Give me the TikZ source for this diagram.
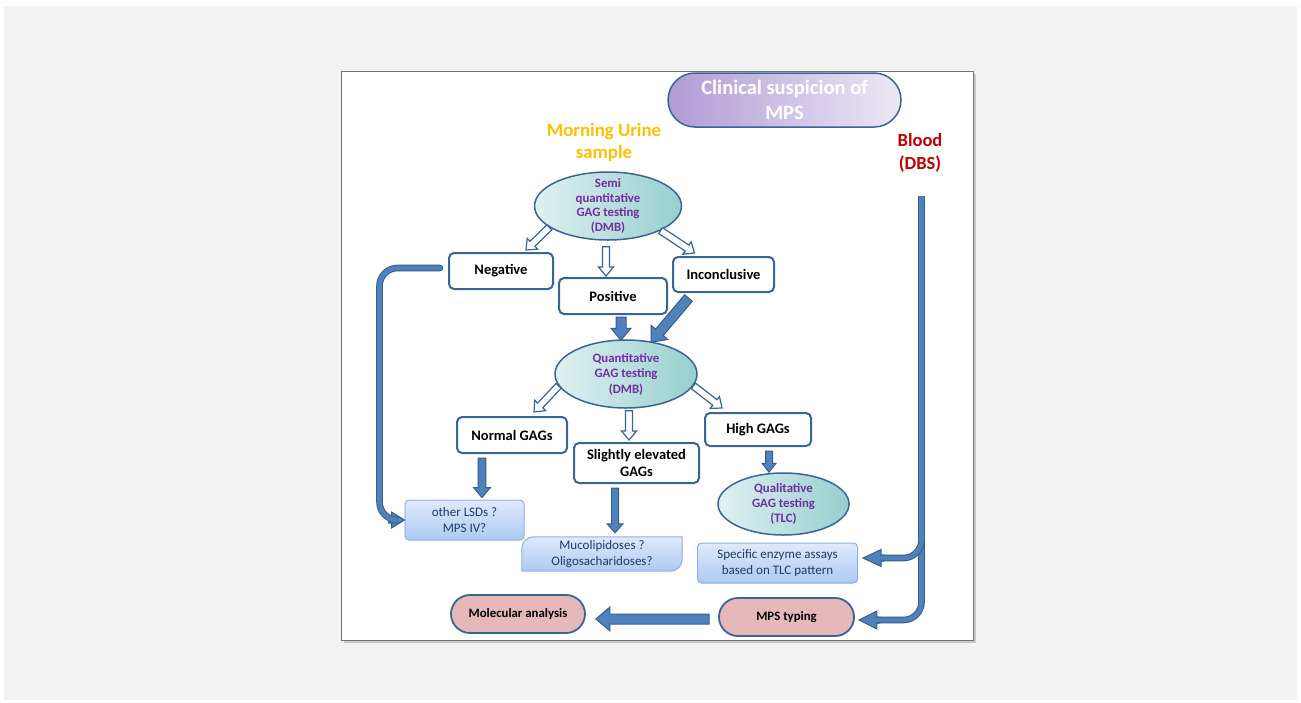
\documentclass[tikz,border=0pt]{standalone}
\usepackage{fontspec}
\setmainfont{Carlito}
\usetikzlibrary{shapes.geometric,calc,backgrounds}

\definecolor{boxline}{HTML}{3A6494}
\definecolor{arrfill}{HTML}{4F81BD}
\definecolor{arrline}{HTML}{385D8A}
\definecolor{gagpurple}{HTML}{7030A0}
\definecolor{urineorange}{HTML}{FFC000}
\definecolor{bloodred}{HTML}{C00000}
\definecolor{pillpink}{HTML}{E6B9B8}
\definecolor{tealL}{HTML}{E0F0F1}
\definecolor{tealR}{HTML}{96CFCD}
\definecolor{lilacL}{HTML}{B09BD6}
\definecolor{lilacR}{HTML}{EDE8F5}
\definecolor{lblueT}{HTML}{DFEAFB}
\definecolor{lblueB}{HTML}{ADC9F3}
\definecolor{lblueline}{HTML}{8EB0DD}
\definecolor{navytext}{HTML}{1F3A68}
\definecolor{pagegray}{HTML}{F2F2F2}

% block arrow: style, shaft half width, head half width, head length, from, to
\newcommand{\blockarr}[6]{%
  \coordinate (ba-s) at #5;
  \coordinate (ba-e) at #6;
  \coordinate (ba-b) at ($(ba-e)!#4!(ba-s)$);
  \draw[#1] ($(ba-s)!#2!90:(ba-e)$) -- ($(ba-b)!#2!-90:(ba-s)$) -- ($(ba-b)!#3!-90:(ba-s)$)
    -- (ba-e) -- ($(ba-b)!#3!90:(ba-s)$) -- ($(ba-b)!#2!90:(ba-s)$) -- ($(ba-s)!#2!-90:(ba-e)$) -- cycle;
}

\tikzset{
  resbox/.style={draw=boxline, line width=2pt, rounded corners=5pt, fill=white, inner sep=0pt,
    font=\fontsize{14.5}{16.5}\selectfont\bfseries, align=center},
  gagoval/.style={ellipse, draw=boxline, line width=1.5pt, left color=tealL, right color=tealR,
    inner sep=0pt, text=gagpurple, font=\fontsize{12.8}{15}\selectfont\bfseries, align=center},
  pill/.style={draw=boxline, line width=1.8pt, fill=pillpink, rounded corners=19pt, minimum height=38pt,
    inner sep=0pt, font=\fontsize{12.8}{15}\selectfont\bfseries},
  ltext/.style={inner sep=0pt, text=navytext, font=\fontsize{13}{16}\selectfont, align=center},
  lbox/.style={ltext, draw=lblueline, line width=1pt, top color=lblueT, bottom color=lblueB, rounded corners=4pt},
  hollow/.style={draw=boxline, fill=white, line width=1.2pt},
  solid/.style={draw=arrline, fill=arrfill, line width=1pt},
  pipe/.style={draw=arrline, double=arrfill, double distance=4.6pt, line width=1pt, rounded corners=18pt}
}

\begin{document}
\begin{tikzpicture}[x=1pt,y=-1pt]
\useasboundingbox (0,0) rectangle (1301,702);

% titles
\node[draw=boxline, line width=1.5pt, left color=lilacL, right color=lilacR, rounded corners=27pt,
  minimum width=233pt, minimum height=54pt, inner sep=0pt, text=white, align=center,
  font=\fontsize{20.5}{25}\selectfont\bfseries] (clin) at (784.5,100) {Clinical suspicion of\\MPS};
\node[text=urineorange, align=center, font=\fontsize{18.8}{22}\selectfont\bfseries] (urine) at (604,142) {Morning Urine\\sample};
\node[text=bloodred, align=center, font=\fontsize{18.5}{23}\selectfont\bfseries] (blood) at (920,153) {Blood\\(DBS)};

% urine path
\node[gagoval, minimum width=147pt, minimum height=68pt, inner ysep=-9pt, font=\fontsize{12.8}{14.7}\selectfont\bfseries] (semi) at (608,206)
  {Semi\\quantitative\\GAG testing\\(DMB)};
\node[resbox, minimum width=104pt, minimum height=36pt] (neg) at (501,271) {Negative};
\node[resbox, minimum width=108pt, minimum height=36pt] (pos) at (613,296) {Positive};
\node[resbox, minimum width=101pt, minimum height=35pt] (inc) at (723.5,274.5) {Inconclusive};
\node[gagoval, minimum width=142pt, minimum height=68pt, font=\fontsize{12.8}{15.5}\selectfont\bfseries] (quant) at (626,374) {Quantitative\\GAG testing\\(DMB)};
\node[resbox, minimum width=110pt, minimum height=36pt] (normal) at (512,435) {Normal GAGs};
\node[resbox, minimum width=125pt, minimum height=40pt] (slight) at (636.5,463) {Slightly elevated\\GAGs};
\node[resbox, minimum width=106pt, minimum height=33pt] (high) at (758,429.5) {High GAGs};
\node[gagoval, minimum width=131pt, minimum height=62pt] (qual) at (783.5,504) {Qualitative\\GAG testing\\(TLC)};

% outcomes
\node[lbox, minimum width=119pt, minimum height=40pt] (lsd) at (464.5,520) {other LSDs ?\\MPS IV?};
\node[ltext, minimum width=160pt, minimum height=34pt] (muco) at (602,554) {Mucolipidoses ?\\Oligosacharidoses?};
\node[lbox, minimum width=160pt, minimum height=40pt] (enz) at (777.5,563) {Specific enzyme assays\\based on TLC pattern};
\node[pill, minimum width=134pt] (mol) at (518,614) {Molecular analysis};
\node[pill, minimum width=135pt] (typing) at (786.5,617) {MPS typing};

\begin{pgfonlayer}{background}
\fill[pagegray] (4,6) rectangle (1297,700);
\fill[black!22] (343.5,73.5) rectangle (975.5,642.5);
\draw[fill=white, draw=black!55, line width=1.5pt] (341.5,71.5) rectangle (973.5,640.5);
\path[draw=lblueline, line width=1pt, top color=lblueT, bottom color=lblueB]
  ([xshift=12pt]muco.north west) -- (muco.north east) -- ([yshift=12pt]muco.south east)
  arc[start angle=0, end angle=-90, radius=12pt] -- (muco.south west) -- ([yshift=-12pt]muco.north west)
  arc[start angle=180, end angle=90, radius=12pt] -- cycle;
\end{pgfonlayer}

% open arrows
\blockarr{hollow}{3.5pt}{7.5pt}{9pt}{(semi.200)}{($(neg.north)+(25,-2)$)}
\blockarr{hollow}{3.5pt}{7.5pt}{9pt}{($(semi.south)+(-2,6)$)}{($(pos.north)+(-7,-1)$)}
\blockarr{hollow}{3.5pt}{7.5pt}{9pt}{(semi.335)}{($(inc.north)+(-29,-3)$)}
\blockarr{hollow}{3.5pt}{7.5pt}{9pt}{(quant.190)}{($(normal.north)+(22,-4)$)}
\blockarr{hollow}{3.5pt}{7.5pt}{9pt}{($(quant.south)+(3,2)$)}{($(slight.north)+(-7.5,-2)$)}
\blockarr{hollow}{3.5pt}{7.5pt}{9pt}{(quant.350)}{($(high.north)+(-36,-4)$)}

% filled arrows
\blockarr{solid}{5pt}{10pt}{12pt}{($(pos.south)+(8,2)$)}{($(quant.north)+(-5,1)$)}
\blockarr{solid}{5pt}{11pt}{13pt}{($(inc.south)+(-35,5)$)}{($(quant.north)+(25,3)$)}
\blockarr{solid}{3.8pt}{8.5pt}{10pt}{($(normal.south)+(-30,4)$)}{($(lsd.north)+(17.5,-2)$)}
\blockarr{solid}{3.5pt}{8pt}{9pt}{($(slight.south)+(-21.5,4)$)}{($(muco.north)+(13,-4)$)}
\blockarr{solid}{3.5pt}{7pt}{9pt}{($(high.south)+(11,4)$)}{($(qual.north)+(-14.5,0)$)}
\blockarr{solid}{5pt}{12pt}{14pt}{($(typing.west)+(-9,2)$)}{($(mol.east)+(10,5)$)}

% negative back to other LSDs
\blockarr{solid}{3pt}{8pt}{13pt}{($(lsd.west)+(-16,0)$)}{(lsd.west)}
\draw[pipe, line cap=round] ($(neg.west)+(-8,-3)$) -| ($(lsd.west)+(-25,0)$) -- ($(lsd.west)+(-12,0)$);

% blood line
\coordinate (dbs) at (921.5,196);
\blockarr{solid}{3pt}{9pt}{18pt}{($(typing.east)+(25,3)$)}{($(typing.east)+(4,3)$)}
\blockarr{solid}{3pt}{8.5pt}{18pt}{($(enz.east)+(26,-5)$)}{($(enz.east)+(5,-5)$)}
\draw[pipe] (dbs) |- ($(typing.east)+(21,3)$);
\draw[pipe] ($(dbs)+(0,330)$) |- ($(enz.east)+(22,-5)$);
\end{tikzpicture}
\end{document}
